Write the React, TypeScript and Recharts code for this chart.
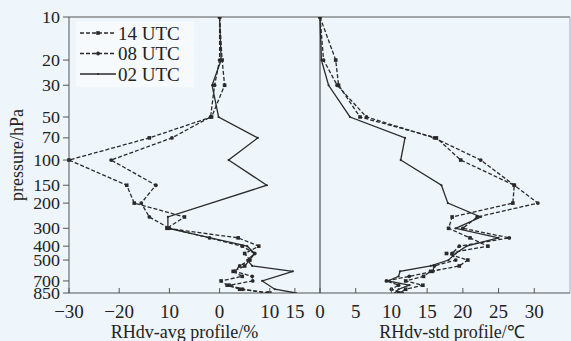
import { ScatterChart, Scatter, XAxis, YAxis, ReferenceLine, Legend } from "recharts";

const FONT = '"Liberation Serif", "Times New Roman", serif';
const INK = "#2a2a2a";
const BG = "#eef5fb";

// pressure levels (hPa), shared by every profile; null = no point at that level
const levels = [10, 20, 30, 50, 70, 100, 150, 200, 250, 300, 350, 400, 450, 500, 550, 600, 650, 700, 750, 800, 850];

const seriesNames = ["14 UTC", "08 UTC", "02 UTC"];

// RHdv-avg profile (%)
const avg14 = [0, 0.5, 1, -1.6, -14, -30, -18.5, -17, -7, -10.5, 3.7, 7.8, 5, 6, 5, 2.7, 4.5, 0.3, 1.5, 4, 10];
const avg08 = [0, 0, -1, -1.8, -9.5, -21.6, -12.7, -15.6, -14, -10, -2, 4.5, 7, 6, 4, 3, 6.5, 6.6, 2, 4.6, 9.5];
const avg02 = [0, 0.3, -1.5, -0.2, 7.6, 1.8, 9.4, null, -10.3, -10.3, null, 5.5, 7, 5.5, 6.5, 14.6, null, 8.5, null, 11, 15.2];

// RHdv-std profile (℃)
const std14 = [0, 2.2, 2.6, 5.6, 16.3, 19.7, 27.2, 27, 18.5, 18, 21, 23.5, 17.7, 20.7, 19.5, 15.5, 14.5, 12, 14.4, 12, 11];
const std08 = [0, 0.5, 2.4, 6.5, 16, 22.5, 27.2, 30.5, 22, 20, 26.5, 19.5, 18.5, 19, 16, 15.8, 12.5, 9.3, 11, 10, 11.5];
const std02 = [0, 0.2, 1.2, 4.2, 11.9, 11.3, 17, 17.9, 22.5, 19, 25, 20.5, 19, 18, 15.5, 11.2, 11, 9.5, 12.5, 11, 10.5];

const pressureTicks = [10, 20, 30, 50, 70, 100, 150, 200, 300, 400, 500, 700, 850];
const avgTicks = [-30, -20, -10, 0, 10, 15];
const avgTickLabels = ["−30", "−20", "10", "0", "10", "15"];
const stdTicks = [0, 5, 10, 15, 20, 25, 30];
const stdTickLabels = ["0", "5", "10", "15", "20", "25", "30"];

function toPoints(vals: (number | null)[]) {
  return levels
    .map((p, i) => ({ p, x: vals[i] }))
    .filter((d) => d.x !== null);
}

const dashStyle = [
  { dash: "4 2", marker: "square" },
  { dash: "4 2", marker: "circle" },
  { dash: undefined, marker: "dot" },
];

function Marker({ cx, cy, kind }: { cx: number; cy: number; kind: string }) {
  if (kind === "square") return <rect x={cx - 1.8} y={cy - 1.8} width={3.6} height={3.6} fill={INK} />;
  if (kind === "circle") return <circle cx={cx} cy={cy} r={1.9} fill={INK} />;
  return <circle cx={cx} cy={cy} r={1.1} fill={INK} />;
}

function makeXTick(ticks: number[], labels: string[]) {
  return (props: any) => {
    const { x, y, payload } = props;
    const i = ticks.indexOf(payload.value);
    return (
      <g>
        <line x1={x} x2={x} y1={y - 5} y2={y} stroke="#555" />
        <text x={x} y={y + 25} textAnchor="middle" fontSize={19} fontFamily={FONT} fill="#222">
          {labels[i]}
        </text>
      </g>
    );
  };
}

// reference labels are squat: smaller font, stretched sideways
function PressureTick(props: any) {
  const { x, y, payload } = props;
  return (
    <text
      transform={`translate(${x},${y}) scale(1.12,1)`}
      dy="0.35em"
      textAnchor="end"
      fontSize={16}
      fontFamily={FONT}
      fill="#222"
    >
      {payload.value}
    </text>
  );
}

function LegendBox() {
  return (
    <svg width={118} height={66} style={{ display: "block", background: "#f6fafd" }}>
      {seriesNames.map((name, i) => {
        const cy = 12 + i * 20.5;
        return (
          <g key={name}>
            <line x1={4} x2={40} y1={cy} y2={cy} stroke={INK} strokeWidth={1.3} strokeDasharray={dashStyle[i].dash} />
            <Marker cx={22} cy={cy} kind={dashStyle[i].marker} />
            <text x={42} y={cy} dy="0.35em" fontSize={19} fontFamily={FONT} fill="#222">
              {name}
            </text>
          </g>
        );
      })}
    </svg>
  );
}

function Profiles({ sets }: { sets: (number | null)[][] }) {
  return (
    <>
      {sets.map((vals, i) => (
        <Scatter
          key={seriesNames[i]}
          name={seriesNames[i]}
          data={toPoints(vals)}
          fill={INK}
          line={{ stroke: INK, strokeWidth: 1.3, strokeDasharray: dashStyle[i].dash }}
          lineType="joint"
          shape={(p: any) => <Marker cx={p.cx} cy={p.cy} kind={dashStyle[i].marker} />}
          isAnimationActive={false}
        />
      ))}
    </>
  );
}

const pressureAxis = {
  type: "number" as const,
  dataKey: "p",
  scale: "log" as const,
  domain: [10, 850],
  reversed: true,
  allowDataOverflow: true,
  ticks: pressureTicks,
  interval: 0 as const,
};

export default function App() {
  return (
    <div style={{ position: "absolute", left: 0, top: 0, width: 571, height: 341, background: BG, overflow: "hidden" }}>
      <div style={{ position: "absolute", left: 0, top: 0 }}>
        <ScatterChart width={320} height={341} margin={{ top: 17, right: 0, left: 0, bottom: 0 }}>
          <XAxis
            type="number"
            dataKey="x"
            domain={[-30, 20]}
            ticks={avgTicks}
            interval={0}
            height={48}
            tickSize={0}
            tickMargin={0}
            tickLine={false}
            axisLine={{ stroke: "#555" }}
            tick={makeXTick(avgTicks, avgTickLabels)}
            label={{
              content: (lp: any) => {
                const vb = lp.viewBox;
                return (
                  <text x={vb.x + vb.width / 2 - 10} y={vb.y + vb.height - 3} textAnchor="middle" fontSize={18} fontFamily={FONT} fill="#222">
                    RHdv-avg profile/%
                  </text>
                );
              },
            }}
          />
          <YAxis
            {...pressureAxis}
            width={69}
            tickSize={6}
            tickMargin={3}
            tickLine={{ stroke: "#555" }}
            axisLine={{ stroke: "#555" }}
            tick={PressureTick}
            label={{
              content: (lp: any) => {
                const vb = lp.viewBox;
                return (
                  <text
                    transform={`translate(${vb.x + 23},${vb.y + vb.height / 2}) rotate(-90)`}
                    textAnchor="middle"
                    fontSize={18}
                    fontFamily={FONT}
                    fill="#222"
                  >
                    pressure/hPa
                  </text>
                );
              },
            }}
          />
          <ReferenceLine y={10} stroke="#555" />
          {Profiles({ sets: [avg14, avg08, avg02] })}
          <Legend
            layout="horizontal"
            align="center"
            verticalAlign="middle"
            wrapperStyle={{ position: "absolute", left: 76, top: 21, width: "auto" }}
            content={() => <LegendBox />}
          />
        </ScatterChart>
      </div>
      <div style={{ position: "absolute", left: 300, top: 0 }}>
        <ScatterChart width={271} height={341} margin={{ top: 17, right: 1, left: 20, bottom: 0 }}>
          <XAxis
            type="number"
            dataKey="x"
            domain={[0, 35]}
            ticks={stdTicks}
            interval={0}
            height={48}
            tickSize={0}
            tickMargin={0}
            tickLine={false}
            axisLine={{ stroke: "#555" }}
            tick={makeXTick(stdTicks, stdTickLabels)}
            label={{
              content: (lp: any) => {
                const vb = lp.viewBox;
                return (
                  <text x={vb.x + vb.width / 2 + 7} y={vb.y + vb.height - 3} textAnchor="middle" fontSize={18} fontFamily={FONT} fill="#222">
                    RHdv-std profile/℃
                  </text>
                );
              },
            }}
          />
          <YAxis {...pressureAxis} hide />
          <ReferenceLine y={10} stroke="#555" />
          <ReferenceLine x={0} stroke="#333" />
          <ReferenceLine x={35} stroke="#aab" />
          {Profiles({ sets: [std14, std08, std02] })}
        </ScatterChart>
      </div>
    </div>
  );
}
